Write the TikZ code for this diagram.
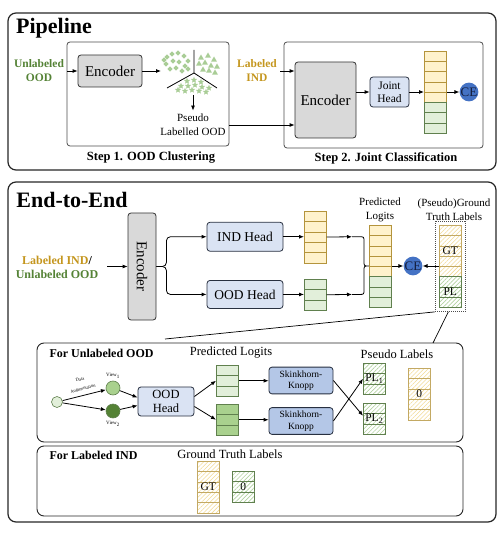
\documentclass[tikz,border=0pt]{standalone}
\usepackage{fontspec}
\setmainfont{Liberation Serif}
\usetikzlibrary{arrows.meta,shapes.geometric,patterns.meta,fit,calc}

\definecolor{goldtxt}{RGB}{196,150,30}
\definecolor{greentxt}{RGB}{84,130,53}
\definecolor{yfill}{HTML}{FFF2CC}
\definecolor{yedge}{RGB}{180,148,60}
\definecolor{gfill}{HTML}{E2EFDA}
\definecolor{gedge}{RGB}{96,128,78}
\definecolor{mgfill}{HTML}{A9D18E}
\definecolor{dgfill}{HTML}{548235}
\definecolor{hatchY}{RGB}{242,218,150}
\definecolor{hatchG}{RGB}{178,210,160}
\definecolor{bluefill}{HTML}{DAE3F3}
\definecolor{skfill}{HTML}{B4C7E7}
\definecolor{boxedge}{RGB}{40,48,64}
\definecolor{cefill}{HTML}{4472C4}
\definecolor{cetext}{RGB}{20,30,60}
\definecolor{grayfill}{RGB}{217,217,217}
\definecolor{clus}{RGB}{169,205,150}

\newcommand\fsize[2]{\fontsize{#1}{#2}\selectfont}
% name, x, ytop, n, style, cell height
\newcommand\cellcol[6]{%
  \foreach \k in {1,...,#4}{%
    \node[cellbase,#5,minimum height=#6pt,anchor=north west] (#1-\k) at (#2,{#3+(\k-1)*#6}) {};}}

\begin{document}
\begin{tikzpicture}[x=1pt,y=-1pt,font=\fsize{11}{14},
  cellbase/.style={rectangle,minimum width=22pt,inner sep=0,line width=0.6pt},
  ycell/.style={draw=yedge,fill=yfill},
  gcell/.style={draw=gedge,fill=gfill},
  mgcell/.style={draw=gedge,fill=mgfill},
  yhat/.style={draw=yedge!80,pattern={Lines[angle=45,distance=3pt,line width=0.6pt]},pattern color=hatchY},
  ghat/.style={draw=gedge,pattern={Lines[angle=45,distance=3pt,line width=0.6pt]},pattern color=hatchG},
  arr/.style={-{Latex[length=5pt,width=4pt]},line width=0.8pt},
  frame/.style={draw=black!85,line width=1.2pt,rounded corners=8pt},
  stepbox/.style={draw=black!70,line width=0.8pt,rounded corners=3pt},
  subbox/.style={draw=black!85,line width=0.9pt,rounded corners=7pt},
  encbox/.style={draw=black!80,fill=grayfill,rounded corners=3pt,line width=0.8pt},
  headbox/.style={draw=boxedge,fill=bluefill,rounded corners=3pt,line width=0.8pt},
  skbox/.style={draw=boxedge,fill=skfill,rounded corners=3pt,line width=0.8pt},
  cenode/.style={circle,fill=cefill,minimum size=17pt,inner sep=0,text=cetext,font=\fsize{13}{15}},
  dmark/.style={diamond,fill=clus,inner sep=0,minimum size=5.5pt},
  tmark/.style={regular polygon,regular polygon sides=3,fill=clus,inner sep=0,minimum size=7pt},
  smark/.style={star,star points=5,star point ratio=2.2,fill=clus,inner sep=0,minimum size=6.5pt}
]
\useasboundingbox (0,0) rectangle (503,534);

% ================= Pipeline =================
\node[frame,fit={(8,13)(496,170)},inner sep=0] (pipe) {};
\node[font=\bfseries\fsize{22}{26}] (ptitle) at (54,28) {Pipeline};
\node[stepbox,fit={(67,42)(229,146)},inner sep=0] (s1) {};
\node[stepbox,fit={(284,42)(483,148)},inner sep=0] (s2) {};
\node[font=\bfseries\fsize{12.5}{15}] (s1t) at (151,158) {Step 1. OOD Clustering};
\node[font=\bfseries\fsize{12.5}{15}] (s2t) at (386,158) {Step 2. Joint Classification};

\node[font=\bfseries\fsize{11.5}{14},text=greentxt,align=center] (uood) at (39,71) {Unlabeled\\OOD};
\node[encbox,minimum width=64pt,minimum height=32pt,font=\fsize{15}{18}] (enc1) at (110,71) {Encoder};
\draw[arr] (uood) -- (enc1);
\coordinate (clin) at (161,71);
\draw[arr] (enc1.east) -- (clin);

% clustering picture
\coordinate (cc) at (194,73);
\coordinate (cl1) at (194,50);
\coordinate (cl2) at (167,88);
\coordinate (cl3) at (217,88);
\draw[line width=0.8pt] (cl1) -- (cc) -- (cl2);
\draw[line width=0.8pt] (cc) -- (cl3);
\foreach \p [count=\i] in {(167,57),(172,54),(178,53),(184,56),(188,61),(166,64),(173,61),(179,62),(185,66),(170,69),(176,68),(182,71),(164,60),(188,69)}
  \node[dmark] (dm\i) at \p {};
\foreach \p [count=\i] in {(201,58),(208,56),(214,60),(199,64),(205,63),(211,66),(217,67),(203,70),(209,71),(215,73)}
  \node[tmark] (tm\i) at \p {};
\foreach \p [count=\i] in {(187,81),(194,80),(201,82),(181,86),(188,86),(195,85),(202,87),(209,88),(178,90),(185,91),(192,90),(199,91),(206,92)}
  \node[smark] (sm\i) at \p {};

\coordinate (cdn) at (193,95);
\node[align=center,font=\fsize{11}{14}] (plo) at (193,125) {Pseudo\\Labelled OOD};
\draw[arr] (cdn) -- (plo.north);

\node[encbox,minimum width=61pt,minimum height=76pt,font=\fsize{15}{18}] (enc2) at (325.5,100) {Encoder};
\draw[arr] (plo.east) -- (plo.east -| enc2.west);
\node[font=\bfseries\fsize{11.5}{14},text=goldtxt,align=center] (lind) at (257,71) {Labeled\\IND};
\draw[arr] (lind.east) -- (lind.east -| enc2.west);

\node[headbox,minimum width=39pt,minimum height=30pt,align=center,font=\fsize{11.5}{13}] (jh) at (389.5,92) {Joint\\Head};
\draw[arr] (enc2.east |- jh) -- (jh);
\cellcol{plY}{424}{51}{5}{ycell}{10.25}
\cellcol{plG}{424}{102.25}{3}{gcell}{10.25}
\draw[arr] (jh) -- (jh -| plY-1.west);
\node[cenode] (ce1) at (469,92) {CE};
\draw[arr] (ce1 -| plY-1.east) -- (ce1);

% ================= End-to-End =================
\node[frame,fit={(8,182)(496,522)},inner sep=0] (e2e) {};
\node[font=\bfseries\fsize{22}{26}] (etitle) at (72,200) {End-to-End};
\node[font=\bfseries\fsize{12}{14},align=center] (in3) at (57,267) {\textcolor{goldtxt}{Labeled IND}/\\\textcolor{greentxt}{Unlabeled OOD}};
\node[encbox,minimum width=28pt,minimum height=107pt] (enc3) at (142,266.5) {};
\node[rotate=-90,font=\fsize{15}{18}] (enc3t) at (enc3) {Encoder};
\coordinate (in3a) at (107,266.5);
\draw[arr] (in3a) -- (enc3);

\node[headbox,minimum width=76pt,minimum height=29pt,font=\fsize{13.5}{16}] (indh) at (245,236.75) {IND Head};
\node[headbox,minimum width=76pt,minimum height=28pt,font=\fsize{13.5}{16}] (oodh) at (245,294.45) {OOD Head};
\draw[arr,rounded corners=4pt] (enc3.east) -- ++(10,0) |- (indh.west);
\draw[arr,rounded corners=4pt] (enc3.east) -- ++(10,0) |- (oodh.west);

\cellcol{indc}{304}{211}{5}{ycell}{10.3}
\cellcol{oodc}{304}{279}{3}{gcell}{10.3}
\draw[arr] (indh) -- (indh -| indc-1.west);
\draw[arr] (oodh) -- (oodh -| oodc-1.west);

\coordinate (bu) at (352,236.75);
\coordinate (bd) at (352,294.45);
\draw[arr] (indc-3.east) -- (bu);
\draw[arr] (oodc-2.east) -- (bd);
\draw[line width=0.8pt] (bu) -- (359,236.75) .. controls (364,236.75) .. (364,241.75) -- (364,261)
  .. controls (364,266) .. (369,266) .. controls (364,266) .. (364,271) -- (364,289.45)
  .. controls (364,294.45) .. (359,294.45) -- (bd);

\cellcol{pY}{369}{225}{5}{ycell}{10.25}
\cellcol{pG}{369}{276.25}{3}{gcell}{10.25}
\node[align=center,font=\fsize{11}{14}] (plab) at (380,210) {Predicted\\Logits};
\node[cenode] (ce2) at (413,266) {CE};
\draw[arr] (ce2 -| pY-1.east) -- (ce2);

\cellcol{gtY}{439}{225}{5}{yhat}{10.25}
\cellcol{gtG}{439}{276.25}{3}{ghat}{10.25}
\node[font=\fsize{11.5}{13},inner sep=0] (gtl) at (gtY-3) {GT};
\node[font=\fsize{11.5}{13},inner sep=0] (pll) at (gtG-2) {PL};
\draw[arr] (ce2 -| gtY-1.west) -- (ce2);
\node[fit=(gtY-1)(gtG-3),inner sep=4pt,draw=black!70,line width=0.6pt,dash pattern=on 1pt off 1pt] (gtbox) {};
\node[align=center,font=\fsize{11}{14}] (gtlab) at (454,210) {(Pseudo)Ground\\Truth Labels};

% ---- sub boxes
\node[subbox,fit={(37,343)(463,442)},inner sep=0] (ub) {};
\node[subbox,fit={(37,446)(463,516)},inner sep=0] (lb) {};
\coordinate (z1) at (165,339);
\coordinate (z2) at (433,343);
\draw[line width=0.7pt] (gtbox.south west) -- (z1);
\draw[line width=0.7pt] ([xshift=-2pt]gtbox.south) -- (z2);

% ---- For Unlabeled OOD
\node[anchor=west,font=\bfseries\fsize{12}{14}] (ubt) at (46,353) {For Unlabeled OOD};
\node[font=\fsize{12.5}{15}] (ubpl) at (231,353) {Predicted Logits};
\node[font=\fsize{12.5}{15}] (ubps) at (397,354) {Pseudo Labels};

\node[circle,draw=gedge,fill=gfill,minimum size=11pt,inner sep=0,line width=0.6pt] (x0) at (57,402) {};
\node[circle,draw=gedge,fill=mgfill,minimum size=14pt,inner sep=0,line width=0.6pt] (v1) at (113,388) {};
\node[circle,draw=gedge,fill=dgfill,minimum size=14pt,inner sep=0,line width=0.6pt] (v2) at (113,411) {};
\node[font=\fsize{5}{6}] (v1l) at (113,376) {View\textsubscript{1}};
\node[font=\fsize{5}{6}] (v2l) at (113,424) {View\textsubscript{2}};
\draw[arr] (x0) -- (v1);
\draw[arr] (x0) -- (v2);
\node[font=\fsize{4.5}{6},rotate=14,inner sep=0] (dal1) at (80,379.5) {Data};
\node[font=\fsize{4.5}{6},rotate=14,inner sep=0] (dal2) at (83,389) {Augmentation};

\node[headbox,minimum width=56pt,minimum height=29pt,align=center,font=\fsize{12.5}{14}] (oh) at (166,401.5) {OOD\\Head};
\draw[arr] (v1) -- ([yshift=4pt]oh.west);
\draw[arr] (v2) -- ([yshift=-4pt]oh.west);

\cellcol{tc}{216}{365}{3}{gcell}{10.3}
\cellcol{bc}{216}{404}{3}{mgcell}{10.3}
\draw[arr] ([yshift=5pt]oh.east) -- (tc-2.west);
\draw[arr] ([yshift=-5pt]oh.east) -- (bc-2.west);

\node[skbox,minimum width=64pt,minimum height=24pt,align=center,font=\fsize{9.5}{11.5}] (sk1) at (301,380.5) {Skinkhorn-\\Knopp};
\node[skbox,minimum width=64pt,minimum height=24pt,align=center,font=\fsize{9.5}{11.5}] (sk2) at (301,421) {Skinkhorn-\\Knopp};
\draw[arr] (tc-2.east) -- (tc-2.east -| sk1.west);
\draw[arr] (bc-2.east) -- (bc-2.east -| sk2.west);

\cellcol{pla}{363}{363}{3}{ghat}{10.3}
\cellcol{plb}{363}{403}{3}{ghat}{10.3}
\node[font=\fsize{11.5}{13},inner sep=0] (pl1l) at (pla-2) {PL\textsubscript{1}};
\node[font=\fsize{11.5}{13},inner sep=0] (pl2l) at (plb-2) {PL\textsubscript{2}};
\draw[arr] (sk1.east) -- ([yshift=3pt]plb-2.west);
\draw[arr] (sk2.east) -- (pla-2.west);

\cellcol{zc}{408}{368}{5}{yhat}{10.3}
\node[font=\fsize{11.5}{13},inner sep=0] (zcl) at (zc-3) {0};

% ---- For Labeled IND
\node[anchor=west,font=\bfseries\fsize{12}{14}] (lbt) at (46,455) {For Labeled IND};
\node[font=\fsize{12.5}{15}] (lbgt) at (230,454) {Ground Truth Labels};
\cellcol{gg}{197}{461}{5}{yhat}{10.3}
\cellcol{zg}{232}{471}{3}{ghat}{10.3}
\node[font=\fsize{11.5}{13},inner sep=0] (ggl) at (gg-3) {GT};
\node[font=\fsize{11.5}{13},inner sep=0] (zgl) at (zg-2) {0};
\end{tikzpicture}
\end{document}
